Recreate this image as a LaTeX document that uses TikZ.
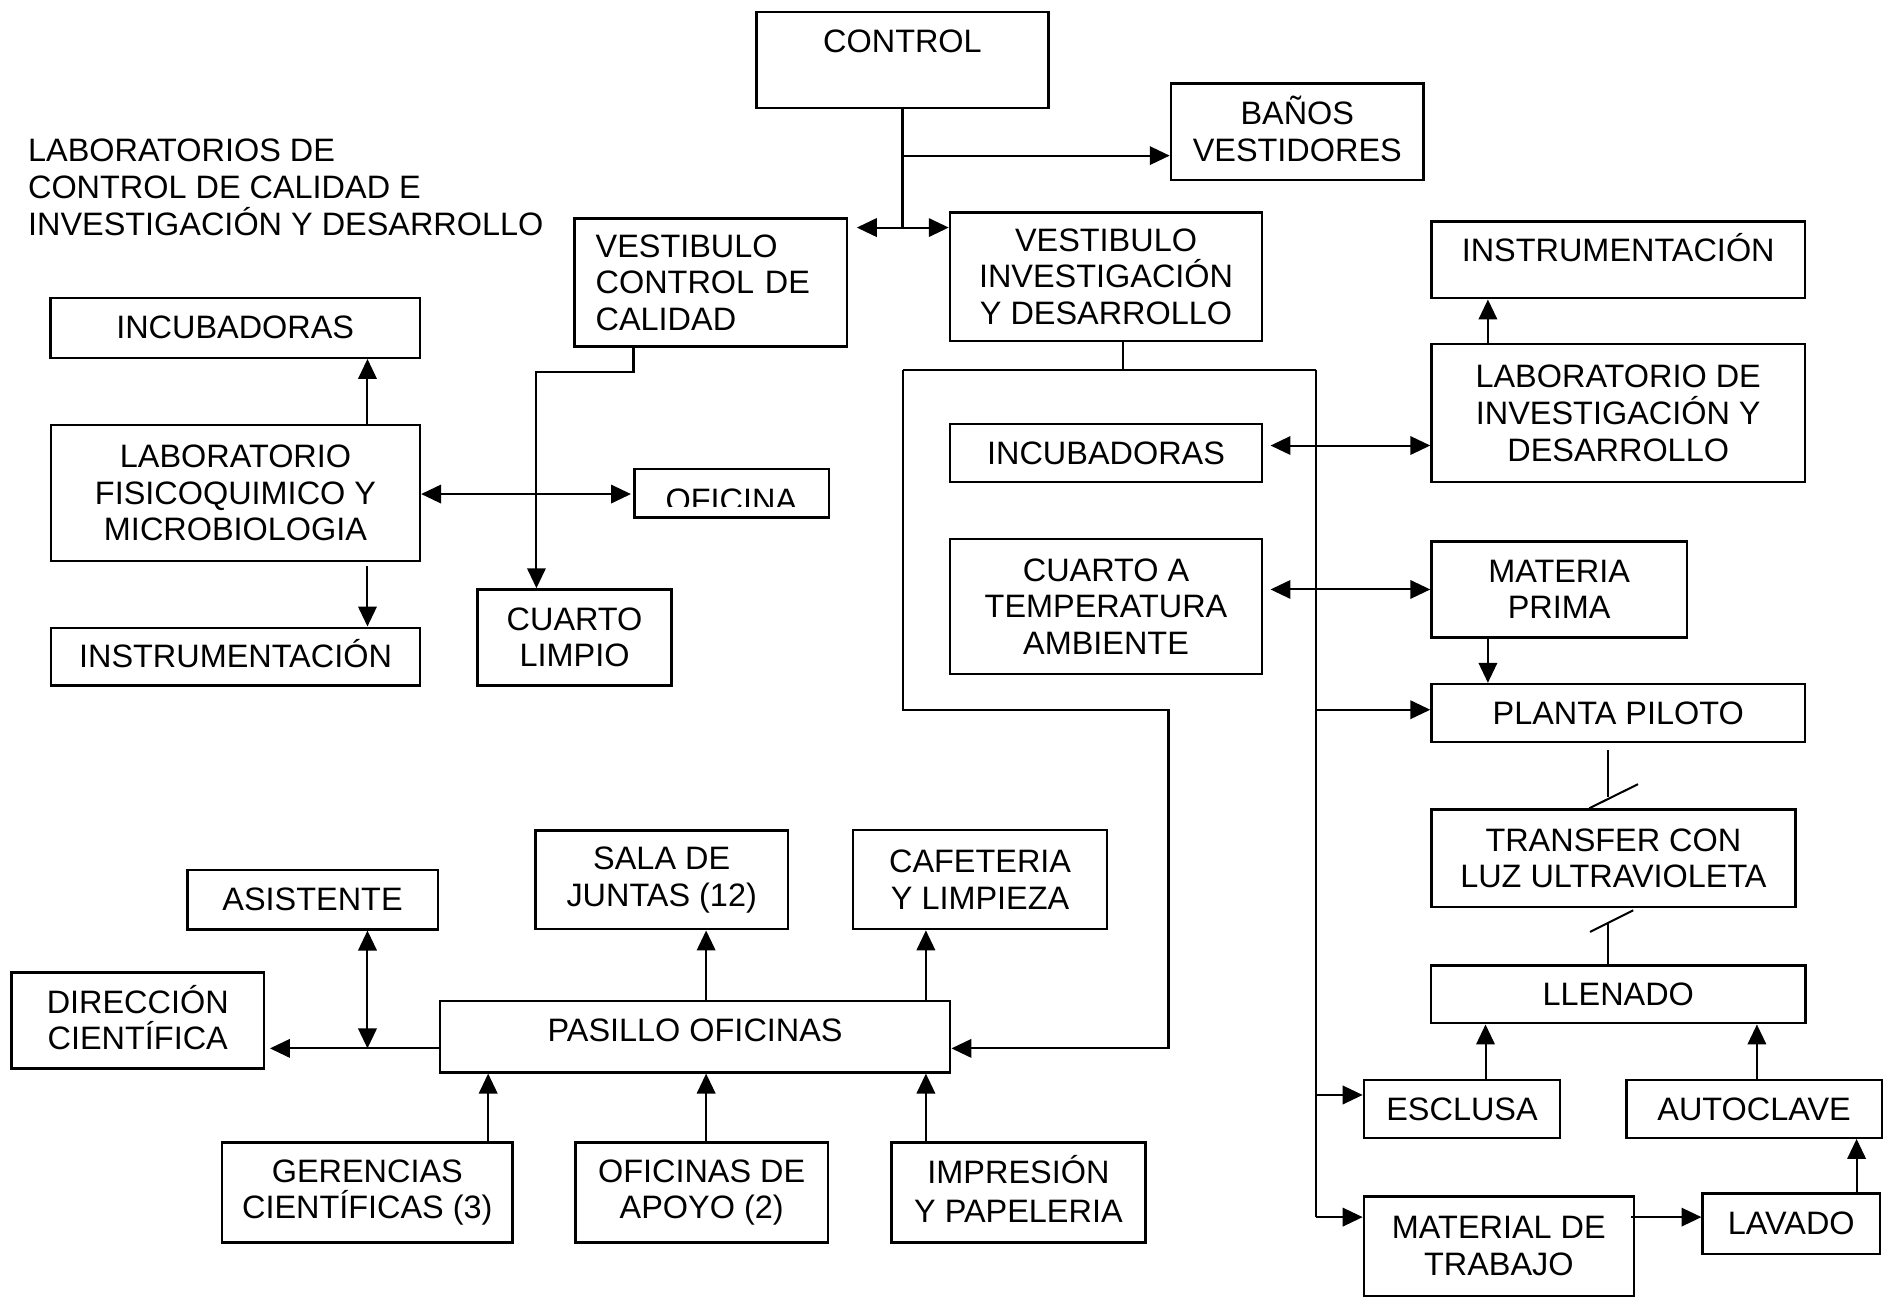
\documentclass[tikz,border=0pt]{standalone}
\usepackage{fontspec}
\setmainfont{Liberation Sans}
\usetikzlibrary{arrows.meta}
\begin{document}
\begin{tikzpicture}[x=0.5pt,y=-0.5pt,
  txt/.style={font=\fontsize{13.5pt}{15.25pt}\selectfont},
  box/.style={txt,draw,line width=1pt,inner sep=0pt,align=center},
  area/.style n args={4}{at={({(#1+#3)/2},{(#2+#4)/2})},
     minimum width={(#3-#1)*0.5pt}, minimum height={(#4-#2)*0.5pt}},
  conn/.style={line width=0.85pt},
  >={Triangle[length=8.3pt,width=7.7pt]}]
\useasboundingbox (0,0) rectangle (1568,1080);

% title
\node[txt,anchor=west,inner sep=0pt,align=left] (title) at (23,156)
  {LABORATORIOS DE\\CONTROL DE CALIDAD E\\INVESTIGACIÓN Y DESARROLLO};

% boxes
\node[box,area={630}{10}{873}{90}] (control) {\raisebox{7.6pt}[\height][\depth]{CONTROL}};
\node[box,area={975}{69.5}{1185.5}{150}] (banos) {BA\smash{Ñ}OS\\VESTIDORES};
\node[box,area={478.5}{182}{705.5}{288.7},align=left,text width=96pt] (vcc) {VESTIBULO\\CONTROL DE\\CALIDAD};
\node[box,area={791}{177}{1051}{284}] (vid) {VESTIBULO\\INVESTIGACIÓN\\Y DESARROLLO};
\node[box,area={1192}{184.6}{1503}{248.4}] (instr2) {\raisebox{4.2pt}[\height][\depth]{INSTRUMENTACI\smash{Ó}N}};
\node[box,area={42}{248}{349.7}{297.9}] (incub1) {INCUBADORAS};
\node[box,area={1192}{286.7}{1503}{401.6}] (labid) {LABORATORIO DE\\INVESTIGACIÓN Y\\DESARROLLO};
\node[box,area={42.5}{354}{349.7}{467}] (labfq) {LABORATORIO\\FISICOQUIMICO Y\\MICROBIOLOGIA};
\node[box,area={528.4}{390.5}{690.4}{431}] (oficina) {};
\begin{scope}
  \clip (oficina.north west) rectangle (690,422);
  \node[txt,inner sep=0pt] (oficinatxt) at (609,416.3) {OFICINA};
\end{scope}
\node[box,area={791}{353.3}{1051}{401.6}] (incub2) {INCUBADORAS};
\node[box,area={397.7}{490.8}{559.2}{570.7}] (climpio) {CUARTO\\LIMPIO};
\node[box,area={42.5}{522.7}{349.7}{570.7}] (instr1) {INSTRUMENTACI\smash{Ó}N};
\node[box,area={791}{449}{1051}{561.3}] (ctemp) {CUARTO A\\TEMPERATURA\\AMBIENTE};
\node[box,area={1192}{451}{1404.6}{530.7}] (mprima) {MATERIA\\PRIMA};
\node[box,area={1192}{569.6}{1503}{618}] (planta) {PLANTA PILOTO};
\node[box,area={1192}{674}{1495}{755.5}] (transfer) {TRANSFER CON\\LUZ ULTRAVIOLETA};
\node[box,area={446}{691.5}{656}{773.8}] (sala) {SALA DE\\JUNTAS (12)};
\node[box,area={710.4}{691.3}{921.9}{773.7}] (cafe) {CAFETERIA\\Y LIMPIEZA};
\node[box,area={156}{724.5}{364.5}{773.9}] (asist) {ASISTENTE};
\node[box,area={9.6}{809.7}{219.8}{889.6}] (direc) {DIRECCI\smash{Ó}N\\CIENTÍFICA};
\node[box,area={366.4}{833.3}{791.3}{893}] (pasillo) {\raisebox{2.75pt}[\height][\depth]{PASILLO OFICINAS}};
\node[box,area={1191.5}{804.1}{1503.6}{852.1}] (llenado) {LLENADO};
\node[box,area={1135.7}{899.3}{1299.2}{947.4}] (esclusa) {ESCLUSA};
\node[box,area={1354.3}{899.3}{1567}{947.4}] (autoclave) {AUTOCLAVE};
\node[box,area={184.8}{951.5}{426.9}{1034.8}] (geren) {GERENCIAS\\CIENTÍFICAS (3)};
\node[box,area={479.1}{951.5}{689.5}{1034.8}] (apoyo) {OFICINAS DE\\APOYO (2)};
\node[box,area={742.3}{951.5}{953.8}{1034.8}] (impres) {\raisebox{0.8pt}[\height][\depth]{IMPRESI\smash{Ó}N}\\Y PAPELERIA};
\node[box,area={1135.7}{996.5}{1360.5}{1079}] (material) {MATERIAL DE\\TRABAJO};
\node[box,area={1417.8}{993.7}{1565.5}{1044.2}] (lavado) {LAVADO};

% junction coordinates
\coordinate (jv) at (751.5,189.5);
\coordinate (jb) at (751.5,129.6);
\coordinate (tl) at (752,308.1);
\coordinate (tr) at (1095.6,308.1);
\coordinate (l1) at (973,591);
\coordinate (l2) at (973,873);
\coordinate (rp) at (1095.6,591);
\coordinate (re) at (1095.6,911.8);
\coordinate (rm) at (1095.6,1013.5);
\coordinate (pd) at (306,873);
\coordinate (s1) at (1339,664);
\coordinate (s2) at (1339,769);

% control
\draw[conn] (control.south) -- (jv);
\draw[conn,->] (jb) -- (jb -| banos.west);
\draw[conn,<->] ([xshift=3.5pt]jv -| vcc.east) -- (jv -| vid.west);

% vestibulo control de calidad
\draw[conn,->] ([xshift=25pt]vcc.south west) -- ++(0,20) -| ([xshift=25pt]climpio.north west);

% laboratorio fisicoquimico
\draw[conn,->] (labfq.north -| 306,0) -- (incub1.south -| 306,0);
\draw[conn,->] ([yshift=-1.75pt]labfq.south -| 306,0) -- (instr1.north -| 306,0);
\draw[conn,<->] (labfq.east |- 0,411.4) -- ([xshift=-1pt]oficina.west |- 0,411.4);

% vestibulo investigacion
\draw[conn] ([xshift=7pt]vid.south) -- ([xshift=7pt]vid.south |- tl);
\draw[conn] (tl) -- (tr);
\draw[conn,->] (tl) |- (l1) -- (l2) -- (l2 -| pasillo.east);
\draw[conn] (tr) -- (rm);
\draw[conn,->] (rp) -- (rp -| planta.west);
\draw[conn,->] (re) -- (re -| esclusa.west);
\draw[conn,->] (rm) -- (rm -| material.west);

\draw[conn,<->] ([xshift=3pt]incub2.east |- 0,371) -- (labid.west |- 0,371);
\draw[conn,<->] ([xshift=3pt]ctemp.east |- mprima.west) -- (mprima.west);
\draw[conn,->] (labid.north -| 1239,0) -- (instr2.south -| 1239,0);
\draw[conn,->] (mprima.south -| 1239,0) -- (planta.north -| 1239,0);

% planta -> transfer -> llenado (broken lines)
\draw[conn] ([yshift=-2.8pt]planta.south -| s1) -- (s1);
\draw[conn] (transfer.north -| 1323.5,0) -- (1364,653);
\draw[conn] (1324,776) -- (1360,758);
\draw[conn] (s2) -- (llenado.north -| s2);

\draw[conn,->] (esclusa.north -| 1237,0) -- (llenado.south -| 1237,0);
\draw[conn,->] (autoclave.north -| 1463,0) -- (llenado.south -| 1463,0);
\draw[conn,->] ([xshift=-1.75pt]material.east |- 0,1013.5) -- (lavado.west |- 0,1013.5);
\draw[conn,->] (lavado.north -| 1546,0) -- (autoclave.south -| 1546,0);

% pasillo oficinas
\draw[conn,->] (pasillo.west |- pd) -- ([xshift=2pt]direc.east |- pd);
\draw[conn,<->] (asist.south -| pd) -- (pd);
\draw[conn,->] (pasillo.north -| 588,0) -- (sala.south -| 588,0);
\draw[conn,->] (pasillo.north -| 771,0) -- (cafe.south -| 771,0);
\draw[conn,->] (geren.north -| 406.5,0) -- (pasillo.south -| 406.5,0);
\draw[conn,->] (apoyo.north -| 588,0) -- (pasillo.south -| 588,0);
\draw[conn,->] (impres.north -| 771,0) -- (pasillo.south -| 771,0);
\end{tikzpicture}
\end{document}
